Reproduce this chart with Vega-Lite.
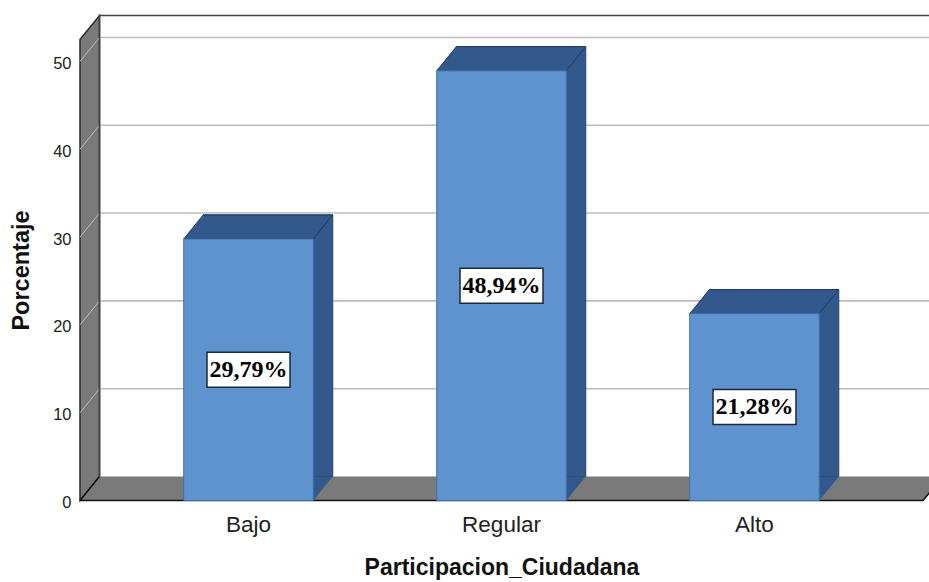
{
"$schema":"https://vega.github.io/schema/vega-lite/v6.json",
"width":843,"height":461,
"autosize":"none",
"padding":{"left":80,"top":39.5,"right":6,"bottom":81.5},
"background":"white",
"view":{"stroke":null},
"datasets":{
"barras":[
{"nivel":"Bajo","pct":29.79,"mitad":14.9,"etiqueta":"29,79%"},
{"nivel":"Regular","pct":48.94,"mitad":24.47,"etiqueta":"48,94%"},
{"nivel":"Alto","pct":21.28,"mitad":10.64,"etiqueta":"21,28%"}
],
"marcas":[{"t":10},{"t":20},{"t":30},{"t":40},{"t":50}],
"base":[{"t":0}]
},
"config":{"font":"Liberation Sans",
"axis":{"grid":false,"ticks":false,"domain":false,"labelColor":"#222222","titleColor":"#111111","titleFontWeight":"bold"},
"axisX":{"labelFontSize":22.5,"labelAngle":0,"labelPadding":13,"titleFontSize":23,"titlePadding":20},
"axisY":{"labelFontSize":16.5,"labelPadding":9,"labelOffset":2,"titleFontSize":23.5,"titlePadding":19}},
"layer":[
{"data":{"name":"base"},
"mark":{"type":"point","shape":"M0,-461L19.5,-485L19.5,-24L0,0Z","size":4,"filled":true,"fill":"#7a7a7a","opacity":1,"stroke":"#2a2a2a","strokeWidth":1.5},
"encoding":{"x":{"value":0},"y":{"field":"t","type":"quantitative","title":"Porcentaje","axis":{"values":[0,10,20,30,40,50]},"scale":{"domain":[0,52.5],"nice":false,"zero":true}}}},
{"data":{"name":"base"},
"mark":{"type":"point","shape":"M0,0L19.5,-24L863,-24L843,0Z","size":4,"filled":true,"fill":"#7a7a7a","opacity":1,"strokeWidth":0},
"encoding":{"x":{"value":0},"y":{"field":"t","type":"quantitative","title":"Porcentaje"}}},
{"data":{"name":"marcas"},
"mark":{"type":"rule","stroke":"#bcbcbc","strokeWidth":1.6,"yOffset":-24,"clip":false},
"encoding":{"x":{"value":19.5},"x2":{"value":850},"y":{"field":"t","type":"quantitative","title":"Porcentaje"}}},
{"data":{"name":"marcas"},
"mark":{"type":"point","shape":"M0,0L19.5,-24","size":4,"filled":false,"opacity":1,"stroke":"#bdbdbd","strokeWidth":1},
"encoding":{"x":{"value":0},"y":{"field":"t","type":"quantitative","title":"Porcentaje"}}},
{"data":{"name":"base"},
"mark":{"type":"point","shape":"M19.5,-24L19.5,-485L850,-485","size":4,"filled":false,"opacity":1,"stroke":"#444444","strokeWidth":1.6},
"encoding":{"x":{"value":0},"y":{"field":"t","type":"quantitative","title":"Porcentaje"}}},
{"data":{"name":"base"},
"mark":{"type":"point","shape":"M0,0L19.5,-24M0,0L843,0L863,-24","size":4,"filled":false,"opacity":1,"stroke":"#111111","strokeWidth":1.6},
"encoding":{"x":{"value":0},"y":{"field":"t","type":"quantitative","title":"Porcentaje"}}},
{"data":{"name":"barras"},
"mark":{"type":"bar","fill":"#33598c","stroke":"#24446f","strokeWidth":1,"xOffset":19.5,"x2Offset":19.5,"yOffset":-24,"y2Offset":-24},
"encoding":{"x":{"field":"nivel","type":"nominal","sort":null,"title":"Participacion_Ciudadana"},"y":{"field":"pct","type":"quantitative","title":"Porcentaje"},"y2":{"datum":0}}},
{"data":{"name":"barras"},
"mark":{"type":"point","shape":"M-64.75,0L-45.25,-24L84.25,-24L64.75,0Z","size":4,"filled":true,"fill":"#33598c","opacity":1,"stroke":"#1f3a60","strokeWidth":1},
"encoding":{"x":{"field":"nivel","type":"nominal","sort":null,"title":"Participacion_Ciudadana"},"y":{"field":"pct","type":"quantitative","title":"Porcentaje"}}},
{"data":{"name":"barras"},
"mark":{"type":"point","shape":"M64.75,0L84.25,-24L64.75,-24Z","size":4,"filled":true,"fill":"#33598c","opacity":1,"strokeWidth":0},
"encoding":{"x":{"field":"nivel","type":"nominal","sort":null,"title":"Participacion_Ciudadana"},"y":{"datum":0,"title":"Porcentaje"}}},
{"data":{"name":"barras"},
"mark":{"type":"bar","fill":"#5f93cf","stroke":"#3f6fa8","strokeWidth":1},
"encoding":{
"x":{"field":"nivel","type":"nominal","sort":null,
"scale":{"type":"band","domain":["Bajo","Regular","Alto"],"paddingInner":0.488,"paddingOuter":0.41},
"title":"Participacion_Ciudadana"},
"y":{"field":"pct","type":"quantitative","title":"Porcentaje"},
"y2":{"datum":0}}},
{"data":{"name":"barras"},
"mark":{"type":"point","shape":"M-41.5,-17.5H41.5V17.5H-41.5Z","size":4,"filled":true,"fill":"#ffffff","opacity":1,"stroke":"#1c2a3a","strokeWidth":1.5},
"encoding":{"x":{"field":"nivel","type":"nominal","sort":null,"title":"Participacion_Ciudadana"},"y":{"field":"mitad","type":"quantitative","title":"Porcentaje"}}},
{"data":{"name":"barras"},
"mark":{"type":"text","font":"Liberation Serif","fontWeight":"bold","fontSize":24,"color":"#000000","align":"center","baseline":"middle"},
"encoding":{"x":{"field":"nivel","type":"nominal","sort":null,"title":"Participacion_Ciudadana"},"y":{"field":"mitad","type":"quantitative","title":"Porcentaje"},"text":{"field":"etiqueta"}}}
]
}
